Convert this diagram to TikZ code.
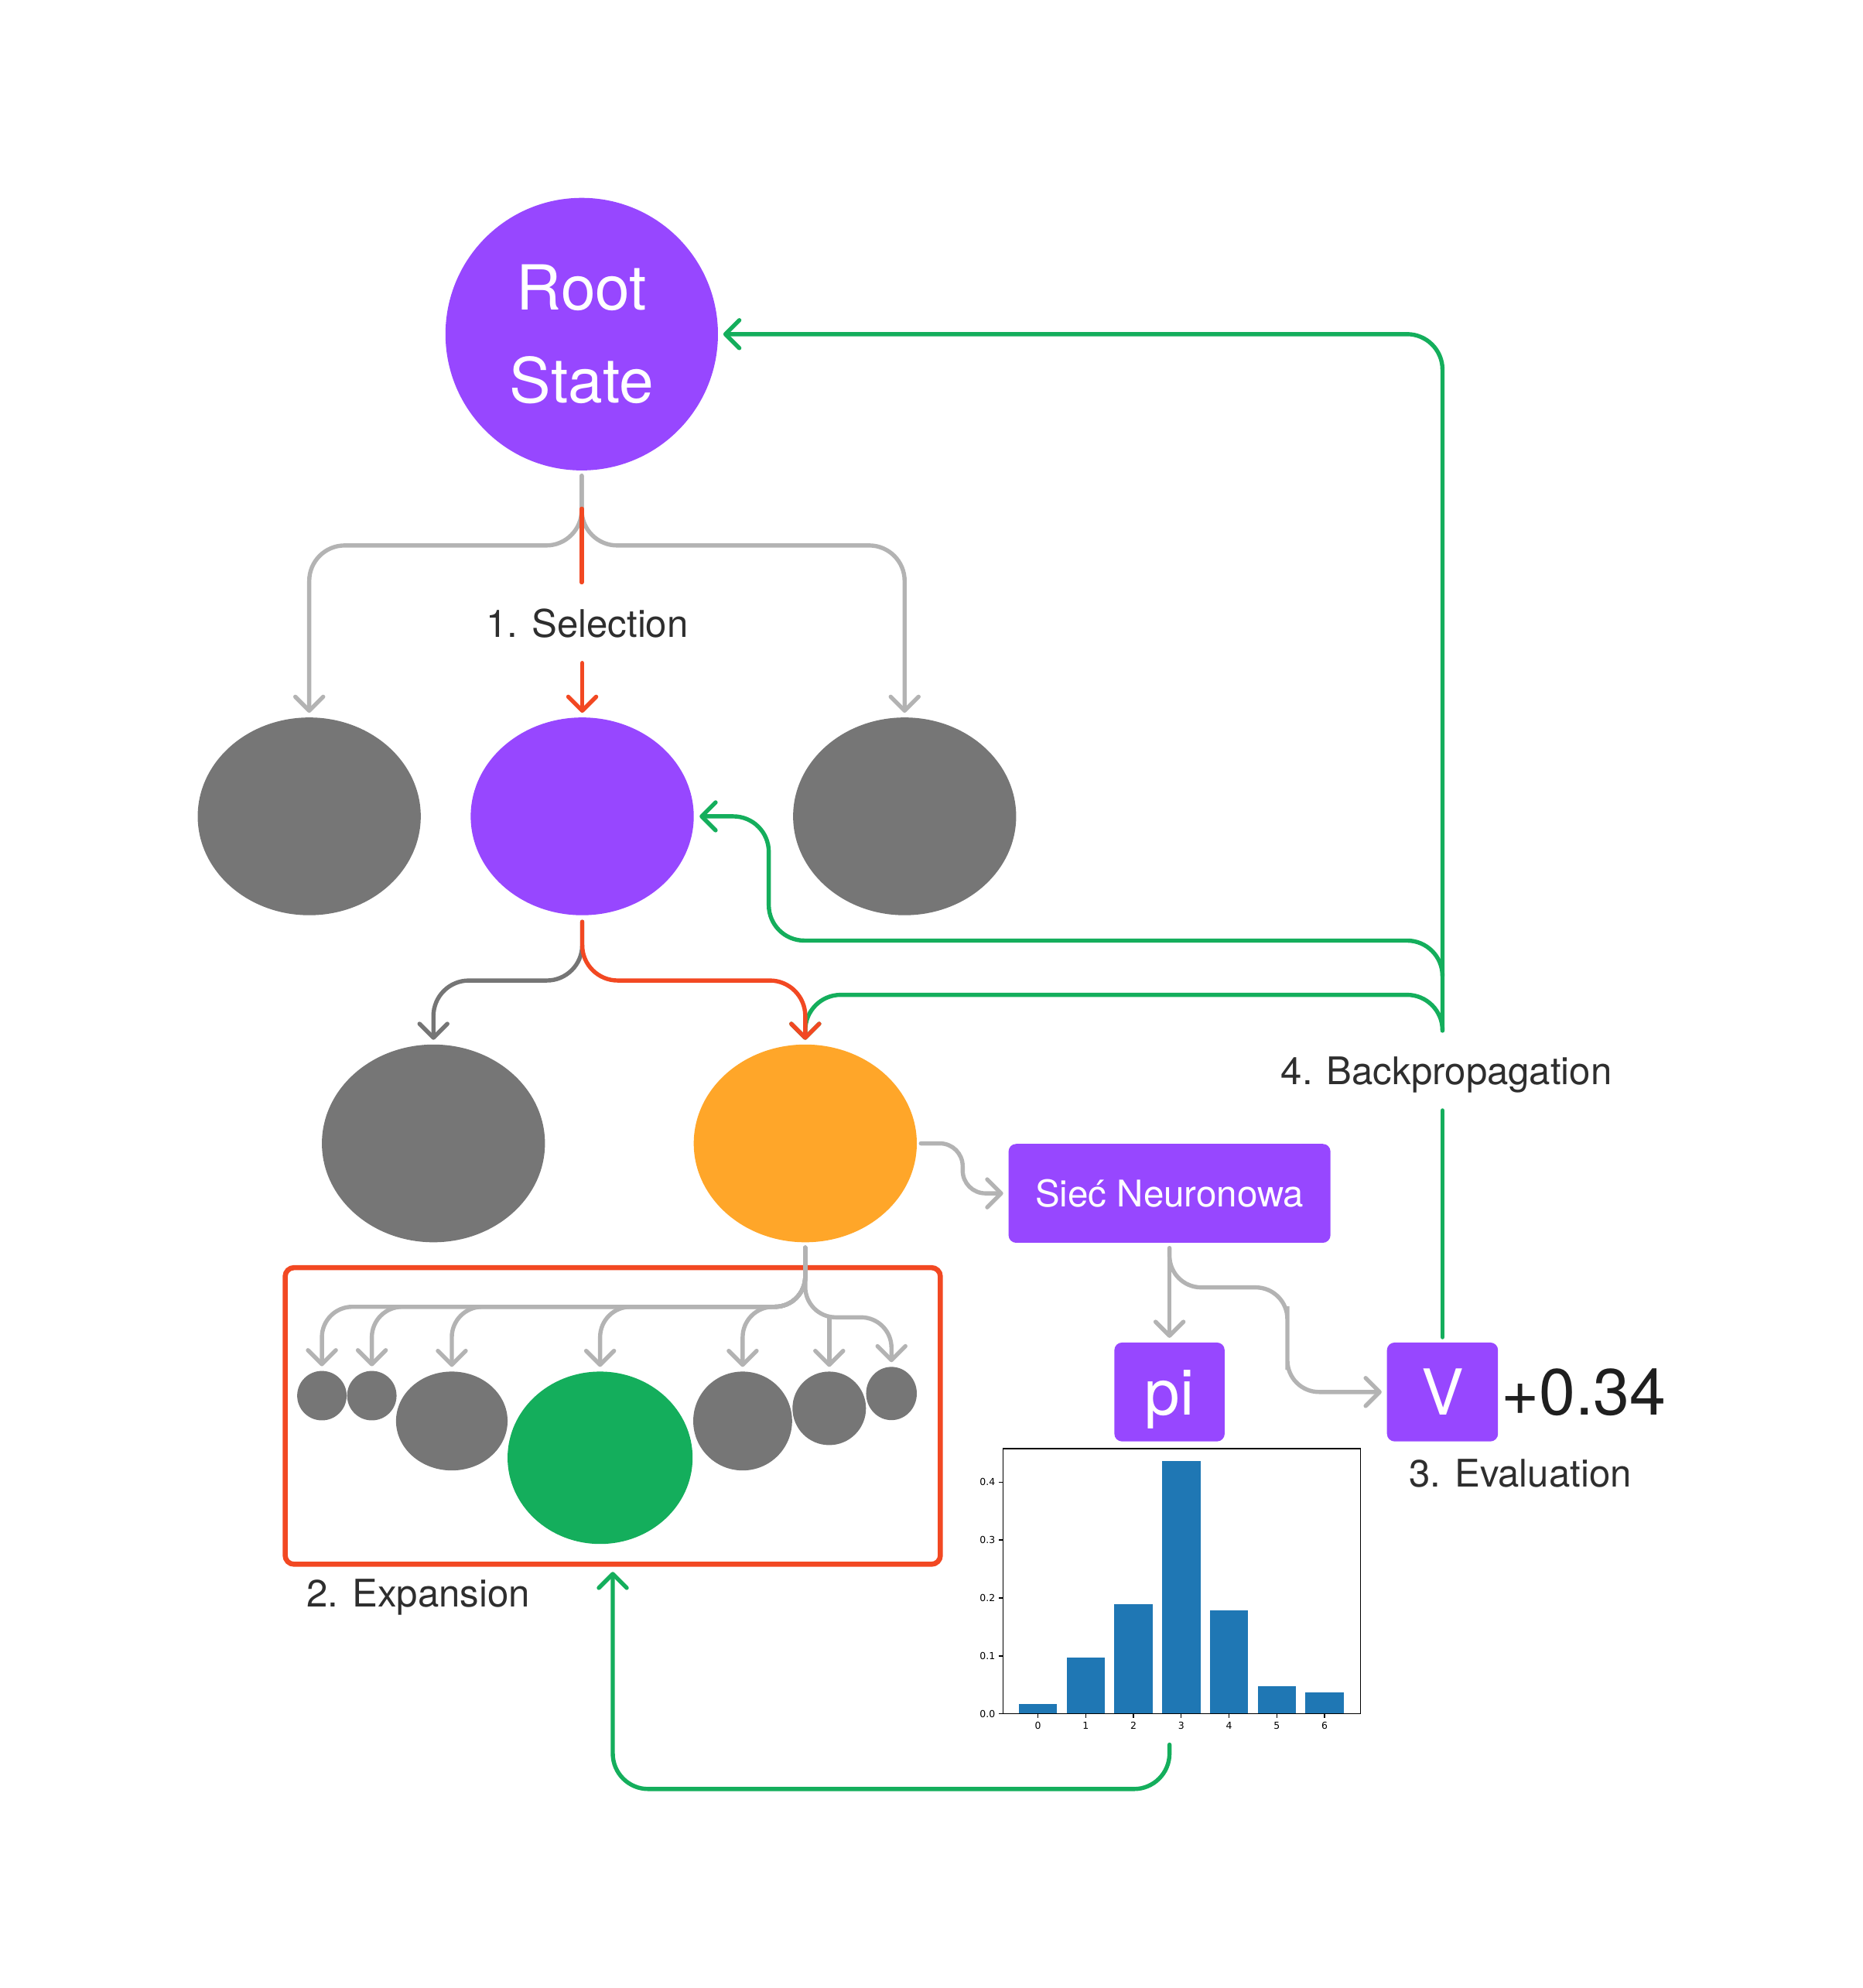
\documentclass[tikz,border=0pt]{standalone}
\usepackage{fontspec}
\setmainfont{TeX Gyre Heros}
\newfontfamily\plotfont{DejaVu Sans}
\usepackage{xcolor}
\usepackage{tikz}
\usetikzlibrary{positioning}
\usetikzlibrary{arrows.meta}
\usetikzlibrary{shapes.geometric}
\usetikzlibrary{calc}
\definecolor{figpurple}{HTML}{9747FF}
\definecolor{figgrey}{HTML}{767676}
\definecolor{figorange}{HTML}{FFA629}
\definecolor{figgreen}{HTML}{14AE5C}
\definecolor{figred}{HTML}{F24822}
\definecolor{lightline}{HTML}{B3B3B3}
\definecolor{darkline}{HTML}{757575}
\definecolor{labeltext}{HTML}{2E2E2E}
\definecolor{barblue}{HTML}{1F77B4}
\tikzset{edge/.style = {-{Straight Barb[length=11pt,width=22pt,round]}, line width=3.3pt, line cap=round, rounded corners=28pt}}
\tikzset{line/.style = {line width=3.3pt, line cap=round, rounded corners=28pt}}

\begin{document}
\begin{tikzpicture}[x=1pt,y=-1pt,
    main node/.style={ellipse,inner sep=0pt,minimum width=176pt,minimum height=156pt},
    kid node/.style={ellipse,inner sep=0pt,fill=figgrey},
    box node/.style={rectangle,rounded corners=6pt,fill=figpurple,text=white,inner sep=0pt,text depth=0pt},
    label node/.style={font=\fontsize{30}{36}\selectfont,text=labeltext,inner sep=0pt},
    tick label/.style={font=\plotfont\fontsize{7.6}{9}\selectfont,inner sep=2.5pt}]
    \useasboundingbox (0,0) rectangle (1470,1568.3);

    % tree
    \node[circle,fill=figpurple,minimum size=215pt,inner sep=0pt,text=white,align=center,
          font=\fontsize{49}{73}\selectfont] (root) at (459,263.6) {Root\\State};
    \node[main node,fill=figgrey] (left1) at (244,644) {};
    \node[main node,fill=figpurple] (mid1) [right=39pt of left1] {};
    \node[main node,fill=figgrey] (right1) [right=78pt of mid1] {};
    \node[main node,fill=figgrey] (left2) at (342,902) {};
    \node[main node,fill=figorange] (orange2) [right=117pt of left2] {};

    % expansion
    \node[draw=figred,line width=4pt,rounded corners=7pt,minimum width=517pt,minimum height=234pt,inner sep=0pt] (expbox) at (483.5,1117) {};
    \node[kid node,minimum size=39pt] (k1) at (254,1101) {};
    \node[kid node,minimum size=39pt] (k2) [right=0pt of k1] {};
    \node[kid node,minimum width=88pt,minimum height=78pt] (k3) at (356.5,1121) {};
    \node[kid node,fill=figgreen,minimum width=146pt,minimum height=136pt] (kg) at (473.5,1150) {};
    \node[kid node,minimum size=78pt] (k5) at (586,1121) {};
    \node[kid node,minimum size=58pt] (k6) at (654.3,1111) {};
    \node[kid node,minimum width=40pt,minimum height=42pt] (k7) at (703.4,1099.3) {};

    % network
    \node[box node,minimum width=254pt,minimum height=78pt,text height=20.8pt,font=\fontsize{29}{34}\selectfont] (net) at (922.8,941.4) {Sieć Neuronowa};
    \node[box node,minimum width=87pt,minimum height=78pt,text height=36pt,font=\fontsize{50}{60}\selectfont] (pi) [below=78.3pt of net] {pi};
    \node[box node,minimum width=87.6pt,minimum height=78pt,text height=36pt,font=\fontsize{50}{60}\selectfont] (V) [right=127.7pt of pi] {V};
    \node[inner sep=0pt,text=black!88,font=\fontsize{51.5}{60}\selectfont] (val) [right=2pt of V] {+0.34};

    % labels
    \node[label node,anchor=base] (sel) at (463.3,503) {1. Selection};
    \node[label node,anchor=base] (exp) at (330,1267.8) {2. Expansion};
    \node[label node,anchor=base] (eval) at (1199.5,1173.2) {3. Evaluation};
    \node[label node,anchor=base] (bp) at (1141.3,855.7) {4. Backpropagation};

    % policy chart
    \begin{scope}[shift={(819,1352)},x=37.69pt,y=457pt]
        \foreach \h [count=\i from 0] in {0.0164,0.097,0.189,0.436,0.178,0.0476,0.0373}
            \fill[barblue] (\i-0.4,0) rectangle (\i+0.4,\h);
        \draw[line width=0.9pt] (-0.727,0) rectangle (6.752,0.458);
        \foreach \i in {0,...,6}
            \draw[line width=0.8pt] (\i,0) -- ++(0pt,-3.5pt) node[below,tick label] (xt\i) {\i};
        \foreach \v [count=\j from 0] in {0.0,0.1,0.2,0.3,0.4}
            \draw[line width=0.8pt] (-0.727,\v) -- ++(-3.5pt,0pt) node[left,tick label] (yt\j) {\v};
    \end{scope}

    % selection
    \draw[edge,lightline] ([yshift=-4pt]root.south) -- ++(0,55) -| ([yshift=3.5pt]left1.north);
    \draw[edge,lightline] ([yshift=-4pt]root.south) -- ++(0,55) -| ([yshift=3.5pt]right1.north);
    \draw[line,figred] ([yshift=-30pt]root.south) -- ($(root.south |- sel.north)+(0,-21)$);
    \draw[edge,figred] ($(mid1.north |- sel.base)+(0,20)$) -- ([yshift=3.5pt]mid1.north);
    \draw[edge,darkline] ([yshift=-5pt]mid1.south) -- ++(0,46.3) -| ([yshift=3.5pt]left2.north);

    % backpropagation
    \coordinate (bpTop) at ($(V.north |- bp.base)+(0,-42.7)$);
    \coordinate (bpBot) at ($(V.north |- bp.base)+(0,20.3)$);
    \coordinate (chartfoot) at ($(pi.south)+(0,239)$);
    \draw[line,figgreen] ([yshift=4pt]V.north) -- (bpBot);
    \draw[edge,figgreen] (bpTop) |- ([xshift=4pt]root.east);
    \draw[edge,figgreen] ($(bpTop)+(0,-43)$) |- ($(mid1.east)+(59,98)$) |- ([xshift=4.4pt]mid1.east);
    \draw[edge,figgreen] (bpTop) |- ($(orange2.north)+(0,-39)$) -- ([yshift=3.5pt]orange2.north);
    \draw[edge,figgreen] (chartfoot) -- ++(0,35) -| ([yshift=-4pt]expbox.south);
    \draw[edge,figred] ([yshift=-5pt]mid1.south) -- ++(0,46.3) -| ([yshift=3.5pt]orange2.north);

    % evaluation
    \draw[edge,lightline,rounded corners=18pt] ([xshift=3pt]orange2.east) -| ([xshift=-36pt]net.west) -- ([xshift=-4pt]net.west);
    \draw[edge,lightline] ([yshift=-4pt]net.south) -- ([yshift=3.5pt]pi.north);
    \draw[edge,lightline,rounded corners=25pt] ([yshift=-4pt]net.south) -- ++(0,31) -| ++(93,40) |- ([xshift=-4pt]V.west);

    % expansion fan
    \coordinate (fanL) at ($(orange2.south)+(0,50.7)$);
    \coordinate (fanR) at ($(orange2.south)+(0,59)$);
    \foreach \k in {k1,k2,k3,kg,k5}
        \draw[edge,lightline,rounded corners=24pt] ([yshift=-4pt]orange2.south) -- (fanL) -| ([yshift=3.5pt]\k.north);
    \draw[edge,lightline,rounded corners=24pt] ([yshift=-4pt]orange2.south) -- (fanR) -| ([yshift=3.5pt]k7.north);
    \draw[edge,lightline] (k6.north |- fanR) -- ([yshift=3.5pt]k6.north);
\end{tikzpicture}
\end{document}
